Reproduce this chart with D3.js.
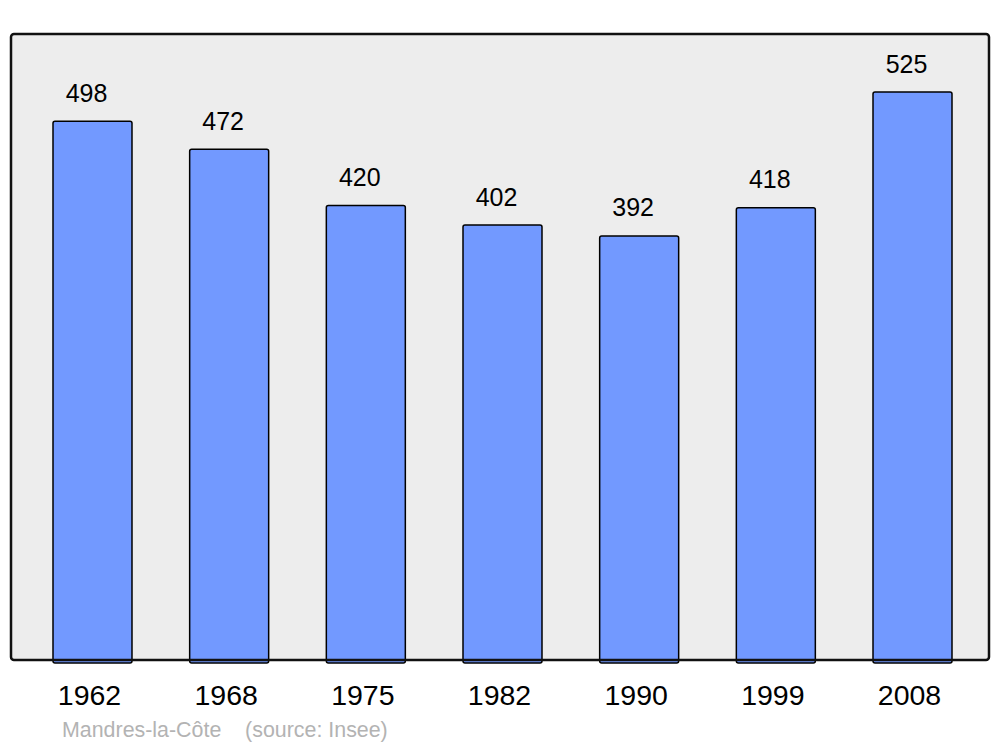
<!DOCTYPE html>
<html>
<head>
<meta charset="utf-8">
<script src="https://cdn.jsdelivr.net/npm/d3@7"></script>
<style>
	body { margin: 0; background: #fff; }
</style>
</head>
<body>
<svg id="SVG" width="1000" height="747" font-family="'Liberation Sans', Arial, sans-serif"></svg>
<script>
var years = ["1962", "1968", "1975", "1982", "1990", "1999", "2008"];
var population = [498, 472, 420, 402, 392, 418, 525];
var caption = "Mandres-la-Côte\u00a0\u00a0\u00a0\u00a0(source: Insee)";

var svg = d3.select("#SVG"),
	frame = { left: 11, top: 34, right: 989, bottom: 660 };

var x = d3.scaleBand()
	.domain(years)
	.range([53, 952])
	.paddingInner(0.422)
	.paddingOuter(0);

var y = d3.scaleLinear()
	.domain([0, 525])
	.range([frame.bottom, 92]);

// background frame
svg.append("rect")
	.attr("x", frame.left)
	.attr("y", frame.top)
	.attr("width", frame.right - frame.left)
	.attr("height", frame.bottom - frame.top)
	.attr("rx", 3)
	.attr("fill", "#ededed");

var data = years.map(function(d, i) { return { year: d, value: population[i] }; });

svg.append("g")
	.selectAll("rect")
	.data(data)
	.enter().append("rect")
		.attr("x", function(d) { return x(d.year); })
		.attr("y", function(d) { return y(d.value); })
		.attr("width", x.bandwidth())
		.attr("height", function(d) { return y(0) - y(d.value) + 3; })
		.attr("rx", 2)
		.attr("fill", "#7299ff")
		.attr("stroke", "#000")
		.attr("stroke-width", 1.5);

// frame border on top of bars
svg.append("rect")
	.attr("x", frame.left)
	.attr("y", frame.top)
	.attr("width", frame.right - frame.left)
	.attr("height", frame.bottom - frame.top)
	.attr("rx", 3)
	.attr("fill", "none")
	.attr("stroke", "#111")
	.attr("stroke-width", 2.5);

svg.append("g")
	.attr("text-anchor", "middle")
	.attr("font-size", 25)
	.selectAll("text")
	.data(data)
	.enter().append("text")
		.attr("x", function(d) { return x(d.year) + x.bandwidth() / 2 - 6; })
		.attr("y", function(d) { return y(d.value) - 19.5; })
		.attr("fill", "#000")
		.text(function(d) { return d.value; });

var xAxis = svg.append("g")
	.attr("transform", "translate(0," + frame.bottom + ")")
	.call(d3.axisBottom(x).tickSize(0).tickPadding(0));
xAxis.select(".domain").remove();
xAxis.selectAll("text")
	.attr("font-size", 28.5)
	.attr("font-family", "'Liberation Sans', Arial, sans-serif")
	.attr("fill", "#000")
	.attr("dy", null)
	.attr("y", 45)
	.attr("x", -3);

svg.append("text")
	.attr("x", 62)
	.attr("y", 737)
	.attr("font-size", 21.4)
	.attr("fill", "#b3b3b3")
	.text(caption);
</script>
</body>
</html>
